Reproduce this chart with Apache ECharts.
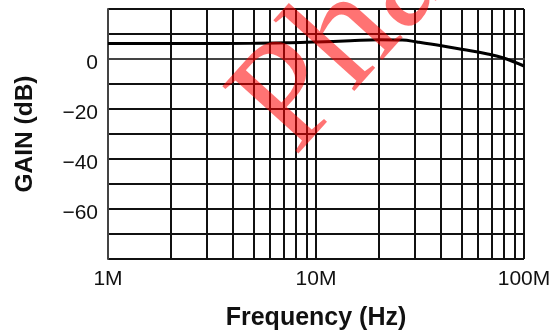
<!DOCTYPE html>
<html>
<head>
<meta charset="utf-8">
<script src="https://cdn.jsdelivr.net/npm/echarts@6/dist/echarts.min.js"></script>
<style>
html,body{margin:0;padding:0;background:#fff;}
#chart{width:554px;height:336px;}
</style>
</head>
<body>
<div id="chart"></div>
<script>
// Data
const freqHz = [1e6, 2.8e6, 4.8e6, 7.5e6, 10e6, 14.6e6, 20e6, 26e6, 30.6e6, 39.5e6, 51e6, 66e6, 79e6, 100e6];
const gainDb = [6.2, 6.2, 6.25, 6.5, 6.8, 7.3, 7.7, 7.6, 6.8, 5.4, 3.8, 2.1, 0.5, -2.8];
const minorFreqs = [2e6,3e6,4e6,5e6,6e6,7e6,8e6,9e6,20e6,30e6,40e6,50e6,60e6,70e6,80e6,90e6];
const xTickLabels = {1e6: '1M', 1e7: '10M', 1e8: '100M'};
const yTickLabels = {0: '0', '-20': '\u221220', '-40': '\u221240', '-60': '\u221260'};
const watermark = 'Phat';

const chart = echarts.init(document.getElementById('chart'));
const font = '"Liberation Sans", Arial, Helvetica, sans-serif';
chart.setOption({
  animation: false,
  grid: {left: 108, right: 30, top: 9, bottom: 74, show: false},
  xAxis: {
    type: 'log', logBase: 10, min: 1e6, max: 1e8,
    name: 'Frequency (Hz)', nameLocation: 'middle', nameGap: 47,
    nameTextStyle: {fontFamily: font, fontSize: 25, fontWeight: 'bold', color: '#111'},
    axisLine: {show: true, lineStyle: {color: '#444', width: 2}},
    axisTick: {show: false},
    axisLabel: {fontFamily: font, fontSize: 21, color: '#111', margin: 10,
      formatter: v => xTickLabels[Math.round(v)] || ''},
    splitLine: {show: true, lineStyle: {color: '#111', width: 2}},
    minorTick: {show: false}, minorSplitLine: {show: false}
  },
  yAxis: {
    type: 'value', min: -80, max: 20, interval: 10,
    name: 'GAIN (dB)', nameLocation: 'middle', nameGap: 70, nameRotate: 90,
    nameTextStyle: {fontFamily: font, fontSize: 24.5, fontWeight: 'bold', color: '#111'},
    axisLine: {show: true, lineStyle: {color: '#444', width: 2}},
    axisTick: {show: false},
    axisLabel: {fontFamily: font, fontSize: 21, color: '#111', margin: 10,
      formatter: v => yTickLabels[v] ? '{t|' + yTickLabels[v] + '}' : '',
      rich: {t: {fontFamily: font, fontSize: 21, color: '#111', padding: [8, 0, 0, 0]}}},
    splitLine: {show: true, lineStyle: {color: '#111', width: 2}}
  },
  series: [{
    type: 'line',
    data: freqHz.map((f, i) => [f, gainDb[i]]),
    smooth: 0.4,
    showSymbol: false,
    lineStyle: {color: '#000', width: 3},
    z: 5,
    markLine: {
      silent: true, symbol: 'none', label: {show: false},
      lineStyle: {color: '#111', width: 2, type: 'solid'},
      data: minorFreqs.map(f => ({xAxis: f}))
    }
  }],
  graphic: [{
    type: 'text', x: 322, y: 182, rotation: 48 * Math.PI / 180, z: 100,
    style: {text: watermark, font: '155px "Liberation Serif", "Times New Roman", serif',
      fill: 'rgba(255,0,0,0.55)', align: 'left', verticalAlign: 'bottom'}
  }]
});
</script>
</body>
</html>
